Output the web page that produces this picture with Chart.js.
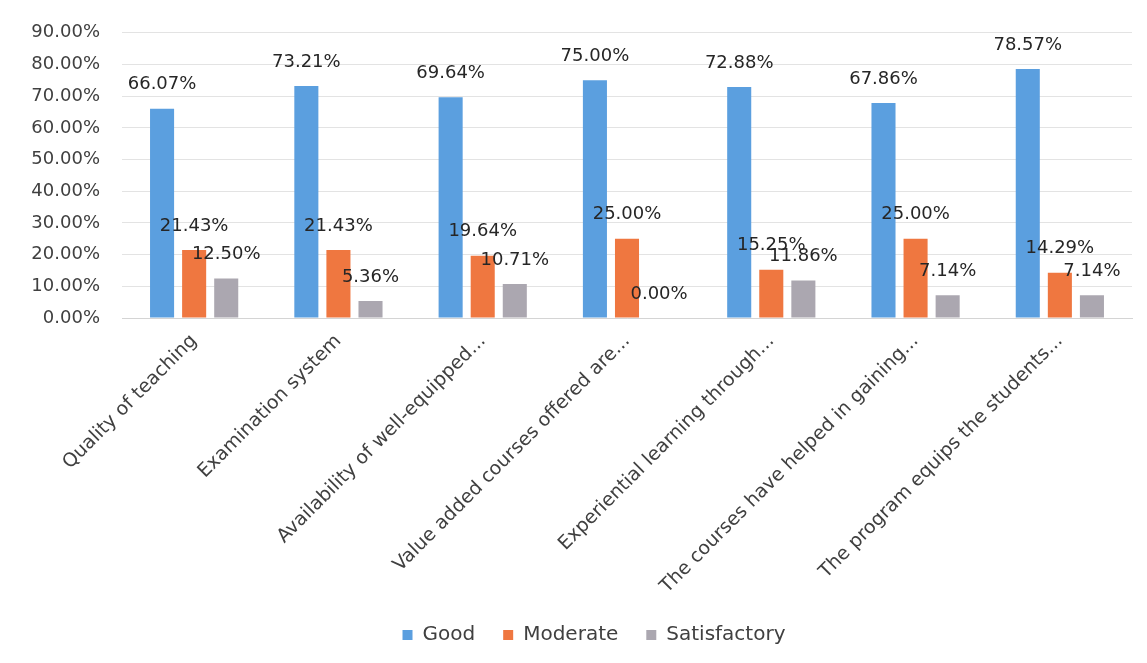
<!DOCTYPE html>
<html>
<head>
<meta charset="utf-8">
<script src="https://cdn.jsdelivr.net/npm/chart.js@4/dist/chart.umd.min.js"></script>
<style>
  html, body { margin: 0; padding: 0; background: #ffffff; }
  #wrap { width: 1147px; height: 663px; position: relative; }
</style>
</head>
<body>
<div id="wrap"><canvas id="c" width="1147" height="663"></canvas></div>
<script>
const categories = [
  "Quality of teaching",
  "Examination system",
  "Availability of well-equipped...",
  "Value added courses offered are...",
  "Experiential learning through...",
  "The courses have helped in gaining...",
  "The program equips the students..."
];
const good = [66.07, 73.21, 69.64, 75.00, 72.88, 67.86, 78.57];
const moderate = [21.43, 21.43, 19.64, 25.00, 15.25, 25.00, 14.29];
const satisfactory = [12.50, 5.36, 10.71, 0.00, 11.86, 7.14, 7.14];
const yTicks = [0, 10, 20, 30, 40, 50, 60, 70, 80, 90];

const FONT = "'DejaVu Sans', 'Liberation Sans', sans-serif";

const valueLabels = {
  id: 'valueLabels',
  afterDatasetsDraw(chart) {
    const ctx = chart.ctx;
    ctx.save();
    ctx.font = "18px " + FONT;
    ctx.fillStyle = '#262626';
    ctx.textAlign = 'center';
    ctx.textBaseline = 'middle';
    chart.data.datasets.forEach((ds, i) => {
      const meta = chart.getDatasetMeta(i);
      meta.data.forEach((el, j) => {
        ctx.fillText(ds.data[j].toFixed(2) + '%', el.x, el.y - 24);
      });
    });
    ctx.restore();
  }
};

const legendShift = {
  id: 'legendShift',
  beforeDraw(chart) {
    const lg = chart.legend;
    if (lg && !lg._shifted) {
      lg.left += 28; lg.right += 28;
      lg._shifted = true;
    }
  }
};

new Chart(document.getElementById('c'), {
  type: 'bar',
  data: {
    labels: categories,
    datasets: [
      { label: 'Good', data: good, backgroundColor: '#5b9fdf' },
      { label: 'Moderate', data: moderate, backgroundColor: '#ef7740' },
      { label: 'Satisfactory', data: satisfactory, backgroundColor: '#aba7b0' }
    ]
  },
  options: {
    responsive: false,
    animation: false,
    devicePixelRatio: 1,
    layout: { padding: { top: 29, right: 15, bottom: 8, left: 0 } },
    datasets: { bar: { categoryPercentage: 0.667, barPercentage: 0.75 } },
    scales: {
      x: {
        grid: { display: false, drawTicks: false },
        border: { display: true, color: '#d4d4d4' },
        ticks: {
          minRotation: 45, maxRotation: 45, autoSkip: false, padding: 12,
          font: { family: FONT, size: 19 }, color: '#404040'
        },
        afterFit(scale) { scale.height = 279; }
      },
      y: {
        min: 0, max: 90,
        afterBuildTicks(scale) { scale.ticks = yTicks.map(v => ({ value: v })); },
        grid: { color: '#e3e3e3', drawTicks: false },
        border: { display: false },
        ticks: {
          padding: 22,
          font: { family: FONT, size: 18 }, color: '#404040',
          callback: v => Number(v).toFixed(2) + '%'
        },
        afterFit(scale) { scale.width = 122; }
      }
    },
    plugins: {
      legend: {
        position: 'bottom',
        labels: {
          boxWidth: 10, boxHeight: 10, padding: 28,
          font: { family: FONT, size: 20 }, color: '#404040'
        }
      },
      tooltip: { enabled: false }
    }
  },
  plugins: [valueLabels, legendShift]
});
</script>
</body>
</html>
